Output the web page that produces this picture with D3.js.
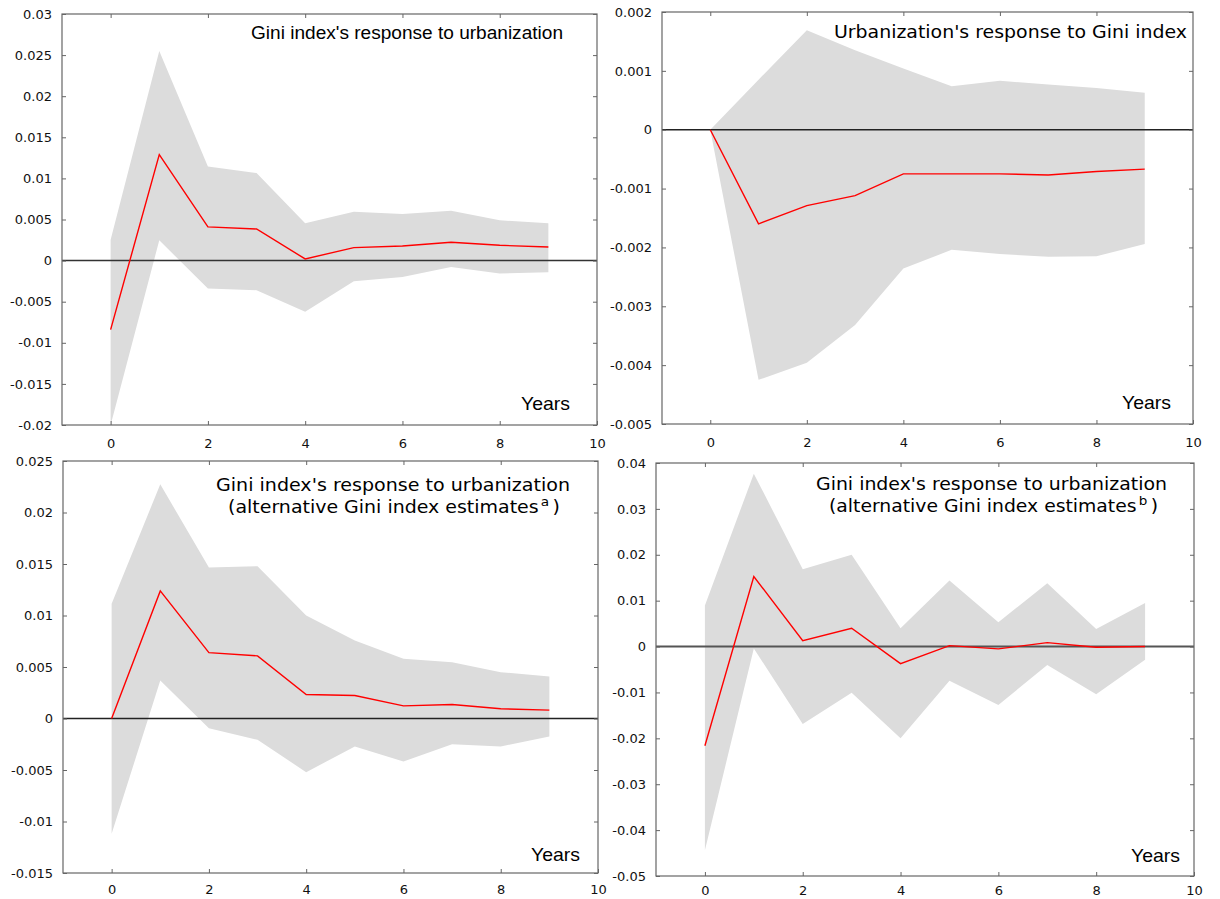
<!DOCTYPE html>
<html><head><meta charset="utf-8">
<script src="https://cdn.jsdelivr.net/npm/d3@7"></script>
<style>body{margin:0;background:#fff}svg{display:block}</style>
</head><body>
<svg id="c" width="1220" height="899"></svg>
<script>
// ---------- data ----------
const years = [0,1,2,3,4,5,6,7,8,9];
const xTicks = [0,2,4,6,8,10];

// Panel A: Gini index's response to urbanization
const aMid   = [-0.0084, 0.0129, 0.0041, 0.00385, 0.0002, 0.00158, 0.00178, 0.00223, 0.00186, 0.00166];
const aUpper = [0.00255, 0.0255, 0.01146, 0.01065, 0.00453, 0.00595, 0.00567, 0.00607, 0.0049, 0.00453];
const aLower = [-0.02, 0.00247, -0.0034, -0.0036, -0.00623, -0.00251, -0.00198, -0.00077, -0.00158, -0.00142];
const aTicks = [-0.02,-0.015,-0.01,-0.005,0,0.005,0.01,0.015,0.02,0.025,0.03];
const aTickLabels = ["-0.02","-0.015","-0.01","-0.005","0","0.005","0.01","0.015","0.02","0.025","0.03"];

// Panel B: Urbanization's response to Gini index
const bMid   = [0, -0.0016, -0.00129, -0.00112, -0.00075, -0.00075, -0.00075, -0.00077, -0.00071, -0.00067];
const bUpper = [0, 0.00085, 0.00169, 0.00135, 0.00104, 0.00074, 0.00083, 0.00077, 0.00071, 0.00063];
const bLower = [0, -0.00425, -0.00396, -0.00332, -0.00236, -0.00204, -0.00211, -0.00216, -0.00215, -0.00194];
const bTicks = [-0.005,-0.004,-0.003,-0.002,-0.001,0,0.001,0.002];
const bTickLabels = ["-0.005","-0.004","-0.003","-0.002","-0.001","0","0.001","0.002"];

// Panel C: alternative Gini index estimates (a)
const cMid   = [0, 0.01239, 0.0064, 0.00608, 0.00233, 0.00223, 0.00123, 0.00136, 0.00094, 0.00081];
const cUpper = [0.01113, 0.02274, 0.01465, 0.01478, 0.01, 0.00757, 0.00579, 0.00547, 0.0045, 0.00408];
const cLower = [-0.01119, 0.00369, -0.00094, -0.00207, -0.00521, -0.00272, -0.00417, -0.00249, -0.00272, -0.00175];
const cTicks = [-0.015,-0.01,-0.005,0,0.005,0.01,0.015,0.02,0.025];
const cTickLabels = ["-0.015","-0.01","-0.005","0","0.005","0.01","0.015","0.02","0.025"];

// Panel D: alternative Gini index estimates (b)
const dMid   = [-0.02163, 0.01527, 0.0013, 0.004, -0.00373, 0.0002, -0.0005, 0.00086, -0.00016, 0];
const dUpper = [0.00894, 0.03768, 0.01687, 0.02, 0.004, 0.0144, 0.0053, 0.0138, 0.00384, 0.0095];
const dLower = [-0.0444, -0.0004, -0.0169, -0.01006, -0.02, -0.00745, -0.01276, -0.004, -0.0104, -0.0029];
const dTicks = [-0.05,-0.04,-0.03,-0.02,-0.01,0,0.01,0.02,0.03,0.04];
const dTickLabels = ["-0.05","-0.04","-0.03","-0.02","-0.01","0","0.01","0.02","0.03","0.04"];

const titleA = ["Gini index's response to urbanization"];
const titleB = ["Urbanization's response to Gini index"];
const titleC = ["Gini index's response to urbanization", "(alternative Gini index estimates", "a", ")"];
const titleD = ["Gini index's response to urbanization", "(alternative Gini index estimates", "b", ")"];
const xLabel = "Years";

// ---------- drawing ----------
const svg = d3.select("#c");
const DJ = "'DejaVu Sans', Verdana, sans-serif";
const LB = "'Liberation Sans', Arial, sans-serif";

function panel(cfg) {
  const x = d3.scaleLinear().domain([-1, 10]).range([cfg.l, cfg.r]);
  const y = d3.scaleLinear().domain([cfg.ticks[0], cfg.ticks[cfg.ticks.length-1]]).range([cfg.b, cfg.t]);
  const g = svg.append("g");

  // band
  const area = d3.area().x((d,i)=>x(years[i])).y0((d,i)=>y(cfg.lower[i])).y1((d,i)=>y(cfg.upper[i]));
  g.append("path").datum(years).attr("d", area).attr("fill", "#dcdcdc");

  // zero line
  g.append("line").attr("x1", cfg.l).attr("x2", cfg.r).attr("y1", y(0)).attr("y2", y(0))
    .attr("stroke", cfg.zeroColor).attr("stroke-width", cfg.zeroWidth);

  // response line
  const line = d3.line().x((d,i)=>x(years[i])).y((d,i)=>y(cfg.mid[i]));
  g.append("path").datum(years).attr("d", line).attr("fill", "none").attr("stroke", "#ff0000").attr("stroke-width", 1.4);

  // frame
  g.append("rect").attr("x", cfg.l).attr("y", cfg.t).attr("width", cfg.r-cfg.l).attr("height", cfg.b-cfg.t)
    .attr("fill", "none").attr("stroke", "#666").attr("stroke-width", 1.2);

  // axes with inward ticks
  const fmtY = (d,i)=>cfg.tickLabels[i];
  const axL = g.append("g").attr("transform", `translate(${cfg.l},0)`)
    .call(d3.axisLeft(y).tickValues(cfg.ticks).tickFormat(fmtY).tickSize(-4).tickPadding(10));
  const axR = g.append("g").attr("transform", `translate(${cfg.r},0)`)
    .call(d3.axisRight(y).tickValues(cfg.ticks).tickFormat("").tickSize(-4));
  const axB = g.append("g").attr("transform", `translate(0,${cfg.b})`)
    .call(d3.axisBottom(x).tickValues(xTicks).tickFormat(d3.format("d")).tickSize(-4).tickPadding(cfg.xPad));
  const axT = g.append("g").attr("transform", `translate(0,${cfg.t})`)
    .call(d3.axisTop(x).tickValues(xTicks.slice(0,-1)).tickFormat("").tickSize(-4));
  [axL, axR, axB, axT].forEach(a => {
    a.select(".domain").remove();
    a.selectAll(".tick line").attr("stroke", "#666");
    a.selectAll("text").attr("font-family", DJ).attr("font-size", 13).attr("fill", "#111");
  });

  // titles
  cfg.titles.forEach(tt => {
    const t = g.append("text").attr("x", tt.x).attr("y", tt.y).attr("font-family", tt.font)
      .attr("font-size", tt.size).attr("fill", "#000")
      .attr("textLength", tt.w).attr("lengthAdjust", "spacingAndGlyphs");
    if (tt.sup) {
      t.append("tspan").text(tt.parts[0]);
      t.append("tspan").text(tt.parts[1]).attr("font-size", tt.size*0.72).attr("dy", -7).attr("dx", 2);
      t.append("tspan").text(tt.parts[2]).attr("dy", 7).attr("dx", 3);
    } else {
      t.text(tt.parts[0]);
    }
  });
  // Years
  g.append("text").attr("x", cfg.yearsX).attr("y", cfg.yearsY).attr("font-family", LB)
    .attr("font-size", 19).attr("fill", "#000").attr("textLength", 49).attr("lengthAdjust", "spacingAndGlyphs")
    .text(xLabel);
}

panel({l:62, r:597, t:14, b:425, xPad:14, ticks:aTicks, tickLabels:aTickLabels, mid:aMid, upper:aUpper, lower:aLower,
  zeroColor:"#333", zeroWidth:1.5,
  titles:[{x:251, y:39, w:312, size:17.5, font:LB, parts:[titleA[0]]}],
  yearsX:521, yearsY:410});

panel({l:662, r:1193, t:12, b:424, xPad:14, ticks:bTicks, tickLabels:bTickLabels, mid:bMid, upper:bUpper, lower:bLower,
  zeroColor:"#222", zeroWidth:1.4,
  titles:[{x:834, y:38, w:353, size:17, font:DJ, parts:[titleB[0]]}],
  yearsX:1122, yearsY:409});

panel({l:63, r:598, t:461, b:873, xPad:12, ticks:cTicks, tickLabels:cTickLabels, mid:cMid, upper:cUpper, lower:cLower,
  zeroColor:"#222", zeroWidth:1.4,
  titles:[{x:216, y:491, w:354, size:17, font:DJ, parts:[titleC[0]]},
          {x:228, y:513, w:332, size:17, font:DJ, sup:true, parts:[titleC[1], titleC[2], titleC[3]]}],
  yearsX:531, yearsY:861});

panel({l:656, r:1194, t:463, b:876, xPad:10, ticks:dTicks, tickLabels:dTickLabels, mid:dMid, upper:dUpper, lower:dLower,
  zeroColor:"#555", zeroWidth:2,
  titles:[{x:816, y:490, w:351, size:17, font:DJ, parts:[titleD[0]]},
          {x:829, y:512, w:329, size:17, font:DJ, sup:true, parts:[titleD[1], titleD[2], titleD[3]]}],
  yearsX:1131, yearsY:862});
</script>
</body></html>
